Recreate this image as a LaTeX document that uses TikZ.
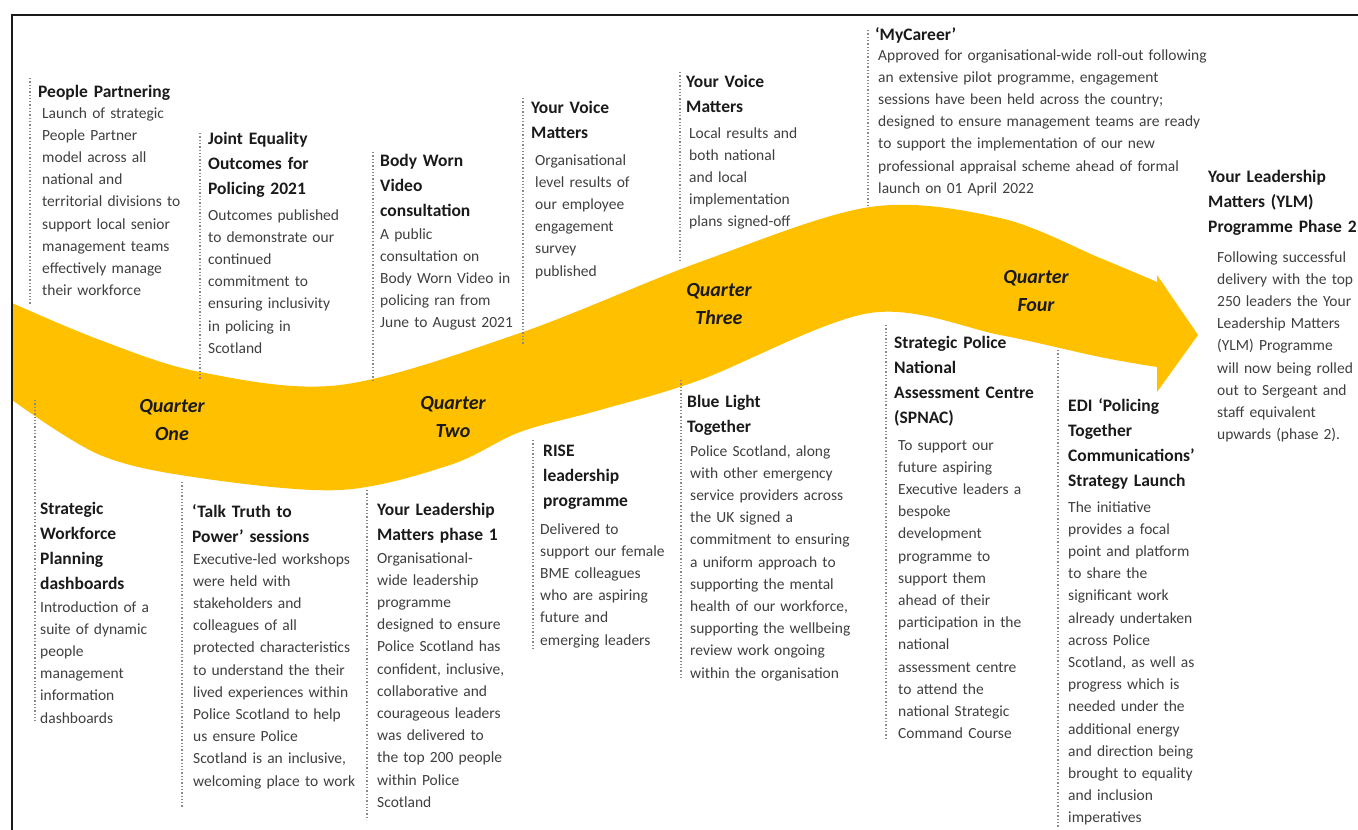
\documentclass[tikz,border=0pt]{standalone}
\usepackage{fontspec}
\setmainfont{Carlito}
\definecolor{band}{HTML}{FFC000}
\definecolor{ink}{HTML}{1A1A1A}
\definecolor{bodyink}{HTML}{3F3F3F}
\definecolor{guidegray}{HTML}{8A8A8A}

\begin{document}
\begin{tikzpicture}[x=1pt, y=-1pt,
    ttl/.style={anchor=base west, inner sep=0pt, text width=360pt, align=left, text=ink,
                font=\fontsize{17.5}{25}\selectfont\bfseries},
    txt/.style={anchor=base west, inner sep=0pt, text width=360pt, align=left, text=bodyink,
                font=\fontsize{15.5}{22.2}\selectfont},
    qtr/.style={anchor=base, inner sep=0pt, text width=110pt, align=center, text=ink,
                font=\fontsize{20}{28}\selectfont\bfseries\itshape},
    guide/.style={draw=guidegray, dotted, line width=1.3pt}]
    \useasboundingbox (0,0) rectangle (1358,830);

    % Band
    \fill[band] plot[smooth, tension=0.55] coordinates {(12,303) (100,340) (200,372) (340,385) (520,333) (700,262) (870,207) (1000,218) (1100,258) (1157,282)}
        -- (1157,275) -- (1198,335) -- (1157,392) -- (1157,367)
        -- plot[smooth, tension=0.55] coordinates {(1157,367) (1100,357) (1000,335) (870,313) (700,380) (600,410) (520,432) (450,465) (340,490) (200,478) (100,455) (12,400)} -- cycle;

    % Frame
    \draw[ink, line width=1.8pt] (1358,15) -- (12,15) -- (12,830);

    % Quarters
    \node[qtr] (Q1) at (172,412) {Quarter\\One};
    \node[qtr] (Q2) at (453,409) {Quarter\\Two};
    \node[qtr] (Q3) at (719,296) {Quarter\\Three};
    \node[qtr] (Q4) at (1036,283) {Quarter\\Four};

    % Guides
    \draw[guide] (30,78) -- (30,305);
    \draw[guide] (200,133) -- (200,380);
    \draw[guide] (35,400) -- (35,722);
    \draw[guide] (182,482) -- (182,808);
    \draw[guide] (373,152) -- (373,382);
    \draw[guide] (367,490) -- (367,820);
    \draw[guide] (523,98) -- (523,345);
    \draw[guide] (533,440) -- (533,650);
    \draw[guide] (680,72) -- (680,262);
    \draw[guide] (681,380) -- (681,680);
    \draw[guide] (868,30) -- (868,205);
    \draw[guide] (886,325) -- (886,740);
    \draw[guide] (1058,350) -- (1058,828);

    % Items above the band
    \node[ttl] (PeopleT) at (38,97) {People Partnering};
    \node[txt] (People) at (42,118) {Launch of strategic\\People Partner\\model across all\\national and\\territorial divisions to\\support local senior\\management teams\\effectively manage\\their workforce};

    \node[ttl] (EqualityT) at (208,144) {Joint Equality\\Outcomes for\\Policing 2021};
    \node[txt] (Equality) at (208,220) {Outcomes published\\to demonstrate our\\continued\\commitment to\\ensuring inclusivity\\in policing in\\Scotland};

    \node[ttl] (VideoT) at (380,166) {Body Worn\\Video\\consultation};
    \node[txt] (Video) at (380,239) {A public\\consultation on\\Body Worn Video in\\policing ran from\\June to August 2021};

    \node[ttl] (VoiceT) at (531,113) {Your Voice\\Matters};
    \node[txt] (Voice) at (535,165) {Organisational\\level results of\\our employee\\engagement\\survey\\published};

    \node[ttl] (VoiceLocalT) at (686,87) {Your Voice\\Matters};
    \node[txt] (VoiceLocal) at (689,138) {Local results and\\both national\\and local\\implementation\\plans signed-off};

    \node[ttl] (CareerT) at (875,40) {‘MyCareer’};
    \node[txt] (Career) at (878,60) {Approved for organisational-wide roll-out following\\an extensive pilot programme, engagement\\sessions have been held across the country;\\designed to ensure management teams are ready\\to support the implementation of our new\\professional appraisal scheme ahead of formal\\launch on 01 April 2022};

    \node[ttl] (PhaseTwoT) at (1208,182) {Your Leadership\\Matters (YLM)\\Programme Phase 2};
    \node[txt] (PhaseTwo) at (1217,262) {Following successful\\delivery with the top\\250 leaders the Your\\Leadership Matters\\(YLM) Programme\\will now being rolled\\out to Sergeant and\\staff equivalent\\upwards (phase 2).};

    % Items below the band
    \node[ttl] (WorkforceT) at (40,514) {Strategic\\Workforce\\Planning\\dashboards};
    \node[txt] (Workforce) at (40,612) {Introduction of a\\suite of dynamic\\people\\management\\information\\dashboards};

    \node[ttl] (TruthT) at (192,517) {‘Talk Truth to\\Power’ sessions};
    \node[txt] (Truth) at (193,564) {Executive-led workshops\\were held with\\stakeholders and\\colleagues of all\\protected characteristics\\to understand the their\\lived experiences within\\Police Scotland to help\\us ensure Police\\Scotland is an inclusive,\\welcoming place to work};

    \node[ttl] (PhaseOneT) at (377,515) {Your Leadership\\Matters phase 1};
    \node[txt] (PhaseOne) at (377,563) {Organisational-\\wide leadership\\programme\\designed to ensure\\Police Scotland has\\confident, inclusive,\\collaborative and\\courageous leaders\\was delivered to\\the top 200 people\\within Police\\Scotland};

    \node[ttl] (RiseT) at (543,456) {RISE\\leadership\\programme};
    \node[txt] (Rise) at (540,534) {Delivered to\\support our female\\BME colleagues\\who are aspiring\\future and\\emerging leaders};

    \node[ttl] (BlueT) at (687,407) {Blue Light\\Together};
    \node[txt] (Blue) at (690,456) {Police Scotland, along\\with other emergency\\service providers across\\the UK signed a\\commitment to ensuring\\a uniform approach to\\supporting the mental\\health of our workforce,\\supporting the wellbeing\\review work ongoing\\within the organisation};

    \node[ttl] (SpnacT) at (894,348) {Strategic Police\\National\\Assessment Centre\\(SPNAC)};
    \node[txt] (Spnac) at (898,450) {To support our\\future aspiring\\Executive leaders a\\bespoke\\development\\programme to\\support them\\ahead of their\\participation in the\\national\\assessment centre\\to attend the\\national Strategic\\Command Course};

    \node[ttl] (EdiT) at (1068,411) {EDI ‘Policing\\Together\\Communications’\\Strategy Launch};
    \node[txt] (Edi) at (1068,512) {The initiative\\provides a focal\\point and platform\\to share the\\significant work\\already undertaken\\across Police\\Scotland, as well as\\progress which is\\needed under the\\additional energy\\and direction being\\brought to equality\\and inclusion\\imperatives};
\end{tikzpicture}
\end{document}
